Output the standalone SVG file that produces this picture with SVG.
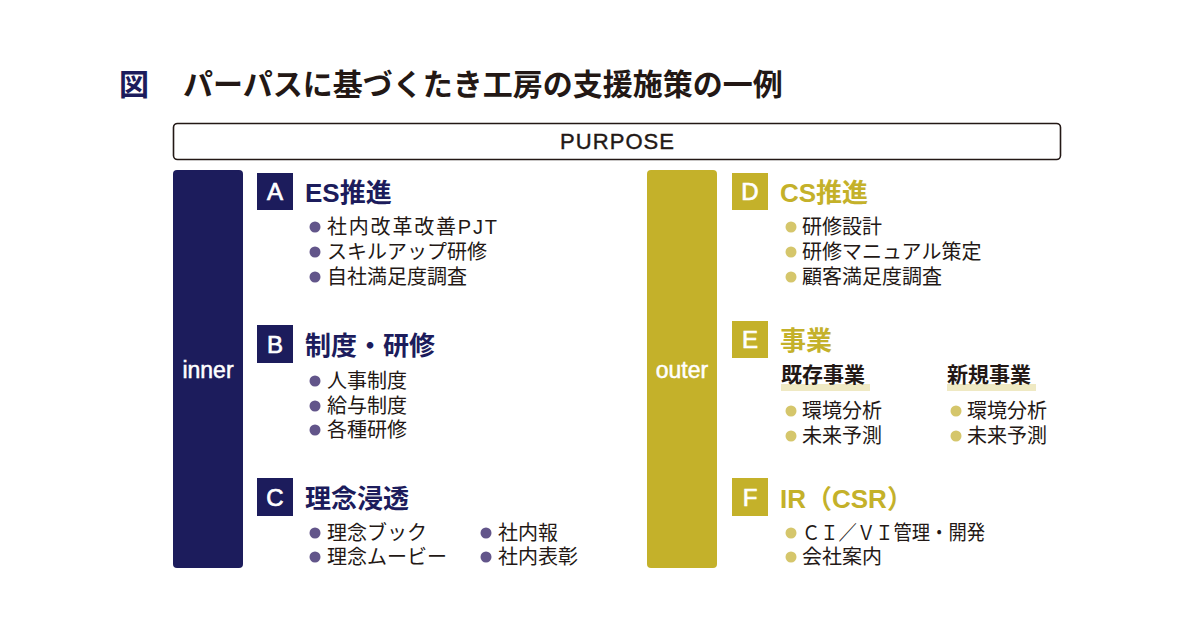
<svg xmlns="http://www.w3.org/2000/svg" width="1200" height="630" viewBox="0 0 1200 630">
<style>
text{font-family:"Liberation Sans","Noto Sans CJK JP",sans-serif;}
.title{font-size:30px;font-weight:bold;fill:#231815;}
.zu{font-size:30px;font-weight:bold;fill:#1c1c5c;}
.bar-in{fill:#1c1c5c;}
.bar-out{fill:#c4b12a;}
.bar-label{font-size:23px;fill:#ffffff;stroke:#ffffff;stroke-width:0.5;text-anchor:middle;}
.box-in{fill:#1c1c5c;}
.box-out{fill:#c4b12a;}
.letter{font-size:24px;fill:#ffffff;stroke:#ffffff;stroke-width:0.7;text-anchor:middle;}
.h-in{font-size:26px;font-weight:bold;fill:#1c1c5c;}
.h-out{font-size:26px;font-weight:bold;fill:#c4b12a;}
.item{font-size:20px;fill:#231815;}
.dot-in{fill:#62558a;}
.dot-out{fill:#d5c66b;}
.sub{font-size:21px;font-weight:bold;fill:#231815;}
.hl{fill:#efe9c3;}
</style>

<g id="title">
<text class="zu" x="119" y="95">図</text>
<text class="title" x="183" y="95">パーパスに基づくたき工房の支援施策の一例</text>
</g>

<g id="purpose">
<rect x="173.5" y="123.5" width="887" height="36" rx="4" fill="#ffffff" stroke="#231815" stroke-width="1.6"/>
<text x="617" y="149" font-size="22" fill="#231815" stroke="#231815" stroke-width="0.4" text-anchor="middle" textLength="114">PURPOSE</text>
</g>

<g id="inner">
<rect class="bar-in" x="173" y="170" width="70" height="398" rx="4"/>
<text class="bar-label" x="208" y="378">inner</text>
</g>

<g id="outer">
<rect class="bar-out" x="647" y="170" width="70" height="398" rx="4"/>
<text class="bar-label" x="682" y="378">outer</text>
</g>

<g id="A">
<rect class="box-in" x="257" y="173" width="36" height="37"/>
<text class="letter" x="275" y="200">A</text>
<text class="h-in" x="305" y="202">ES推進</text>
<circle class="dot-in" cx="315" cy="227" r="5.5"/>
<text class="item" x="327" y="234" textLength="170" lengthAdjust="spacing">社内改革改善PJT</text>
<circle class="dot-in" cx="315" cy="252" r="5.5"/>
<text class="item" x="327" y="259">スキルアップ研修</text>
<circle class="dot-in" cx="315" cy="277" r="5.5"/>
<text class="item" x="327" y="284">自社満足度調査</text>
</g>

<g id="B">
<rect class="box-in" x="257" y="325" width="36" height="38"/>
<text class="letter" x="275" y="353">B</text>
<text class="h-in" x="305" y="355">制度・研修</text>
<circle class="dot-in" cx="315" cy="381" r="5.5"/>
<text class="item" x="327" y="388">人事制度</text>
<circle class="dot-in" cx="315" cy="406" r="5.5"/>
<text class="item" x="327" y="413">給与制度</text>
<circle class="dot-in" cx="315" cy="430" r="5.5"/>
<text class="item" x="327" y="437">各種研修</text>
</g>

<g id="C">
<rect class="box-in" x="257" y="478" width="36" height="38"/>
<text class="letter" x="275" y="506">C</text>
<text class="h-in" x="305" y="508">理念浸透</text>
<circle class="dot-in" cx="315" cy="533" r="5.5"/>
<text class="item" x="327" y="540">理念ブック</text>
<circle class="dot-in" cx="315" cy="557" r="5.5"/>
<text class="item" x="327" y="564">理念ムービー</text>
<circle class="dot-in" cx="486" cy="533" r="5.5"/>
<text class="item" x="498" y="540">社内報</text>
<circle class="dot-in" cx="486" cy="557" r="5.5"/>
<text class="item" x="498" y="564">社内表彰</text>
</g>

<g id="D">
<rect class="box-out" x="732" y="173" width="36" height="37"/>
<text class="letter" x="750" y="200">D</text>
<text class="h-out" x="780" y="202">CS推進</text>
<circle class="dot-out" cx="791" cy="227" r="5.5"/>
<text class="item" x="802" y="234">研修設計</text>
<circle class="dot-out" cx="791" cy="252" r="5.5"/>
<text class="item" x="802" y="259">研修マニュアル策定</text>
<circle class="dot-out" cx="791" cy="277" r="5.5"/>
<text class="item" x="802" y="284">顧客満足度調査</text>
</g>

<g id="E">
<rect class="box-out" x="732" y="321" width="36" height="37"/>
<text class="letter" x="750" y="348">E</text>
<text class="h-out" x="780" y="350">事業</text>
<rect class="hl" x="781" y="384" width="89" height="7"/>
<text class="sub" x="781" y="382">既存事業</text>
<rect class="hl" x="947" y="384" width="89" height="7"/>
<text class="sub" x="947" y="382">新規事業</text>
<circle class="dot-out" cx="791" cy="411" r="5.5"/>
<text class="item" x="802" y="418">環境分析</text>
<circle class="dot-out" cx="791" cy="436" r="5.5"/>
<text class="item" x="802" y="443">未来予測</text>
<circle class="dot-out" cx="956" cy="411" r="5.5"/>
<text class="item" x="967" y="418">環境分析</text>
<circle class="dot-out" cx="956" cy="436" r="5.5"/>
<text class="item" x="967" y="443">未来予測</text>
</g>

<g id="F">
<rect class="box-out" x="732" y="478" width="36" height="38"/>
<text class="letter" x="750" y="506">F</text>
<text class="h-out" x="780" y="508">IR（CSR）</text>
<circle class="dot-out" cx="791" cy="533" r="5.5"/>
<text class="item" x="802" y="540" textLength="183" lengthAdjust="spacingAndGlyphs">ＣＩ／ＶＩ管理・開発</text>
<circle class="dot-out" cx="791" cy="557" r="5.5"/>
<text class="item" x="802" y="564">会社案内</text>
</g>

<g id="connectors"/>
</svg>
